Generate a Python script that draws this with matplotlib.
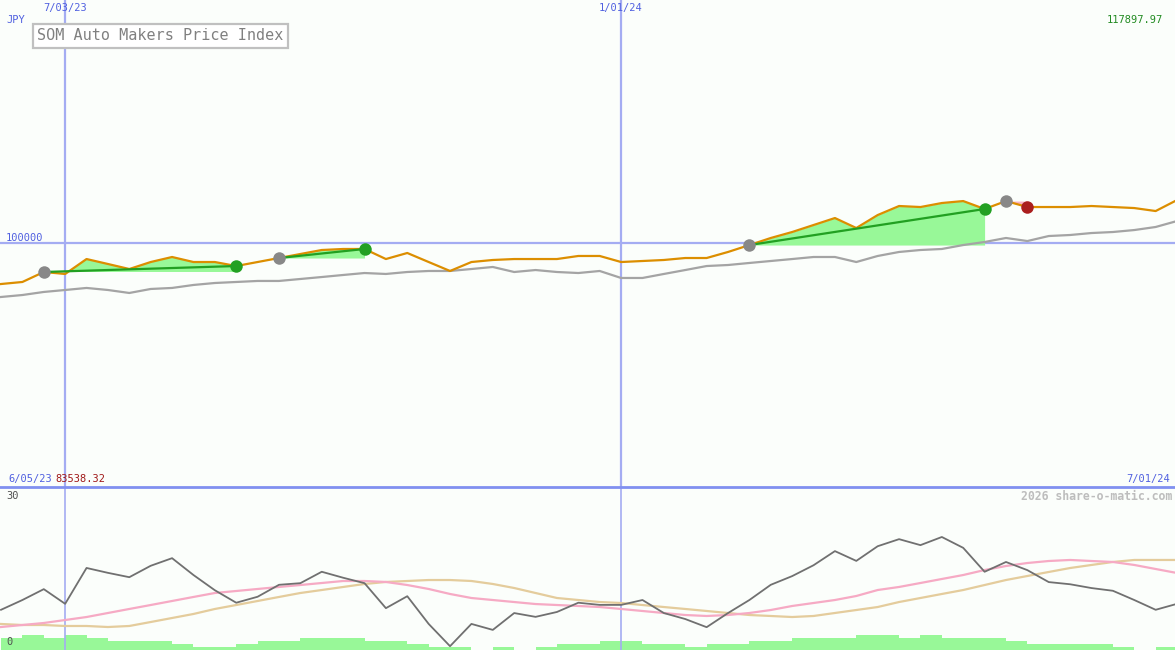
import numpy as np
import pandas as pd
import matplotlib
matplotlib.use('Agg')
import matplotlib.pyplot as plt
from matplotlib.lines import Line2D

# weekly data, index units
fechas = pd.date_range('2023-06-12', periods=56, freq='7D')

precio = [96980, 97130, 97865, 97720, 98820, 98455, 98085, 98600, 98970, 98600,
          98600, 98305, 98600, 98895, 99190, 99485, 99560, 99560, 98820, 99265,
          98600, 97940, 98600, 98750, 98820, 98820, 98820, 99045, 99045, 98600,
          98675, 98750, 98895, 98895, 99340, 99850, 100370, 100810, 101325, 101840,
          101105, 102060, 102725, 102650, 102945, 103090, 102505, 103090, 102650, 102650,
          102650, 102725, 102650, 102575, 102355, 103165]

media = [96025, 96170, 96395, 96540, 96690, 96540, 96320, 96615, 96690, 96910,
         97055, 97130, 97205, 97205, 97350, 97495, 97645, 97790, 97720, 97865,
         97940, 97940, 98085, 98235, 97865, 98010, 97865, 97790, 97940, 97425,
         97425, 97720, 98010, 98305, 98380, 98530, 98675, 98820, 98970, 98970,
         98600, 99045, 99340, 99485, 99560, 99850, 100075, 100370, 100145, 100515,
         100590, 100735, 100810, 100955, 101180, 101620]

# trades: (entrada, salida)
operaciones = [(2, 11), (13, 17), (35, 46), (47, 48)]

osc = [7.4, 9.2, 11.2, 8.5, 15.1, 14.2, 13.4, 15.5, 16.9, 13.8,
       11.0, 8.7, 9.8, 12.0, 12.3, 14.4, 13.3, 12.3, 7.7, 9.9,
       4.8, 0.7, 4.8, 3.7, 6.8, 6.1, 7.0, 8.7, 8.3, 8.3,
       9.2, 6.8, 5.7, 4.2, 6.8, 9.2, 12.0, 13.6, 15.6, 18.2,
       16.4, 19.1, 20.4, 19.3, 20.8, 18.8, 14.4, 16.2, 14.7, 12.5,
       12.1, 11.4, 10.9, 9.2, 7.4, 8.5]

osc_rosa = [4.23, 4.60, 4.97, 5.52, 6.07, 6.81, 7.55, 8.28, 9.02, 9.76,
            10.49, 10.86, 11.23, 11.60, 11.96, 12.33, 12.70, 12.70, 12.52, 11.96,
            11.23, 10.31, 9.57, 9.20, 8.83, 8.46, 8.28, 8.10, 7.91, 7.55,
            7.18, 6.81, 6.44, 6.26, 6.44, 6.81, 7.36, 8.10, 8.65, 9.20,
            9.94, 11.04, 11.60, 12.33, 13.07, 13.80, 14.72, 15.46, 16.01, 16.38,
            16.57, 16.38, 16.20, 15.65, 14.91, 14.17]

osc_tan = [4.79, 4.60, 4.60, 4.42, 4.42, 4.23, 4.42, 5.15, 5.89, 6.63,
           7.55, 8.28, 9.02, 9.76, 10.49, 11.04, 11.60, 12.15, 12.52, 12.70,
           12.88, 12.88, 12.70, 12.15, 11.41, 10.49, 9.57, 9.20, 8.83, 8.65,
           8.28, 7.91, 7.55, 7.18, 6.81, 6.44, 6.26, 6.07, 6.26, 6.81,
           7.36, 7.91, 8.83, 9.57, 10.31, 11.04, 11.96, 12.88, 13.62, 14.36,
           15.09, 15.65, 16.20, 16.57, 16.57, 16.57]

volumen = [4, 5, 4, 5, 4, 3, 3, 3, 2, 1, 1, 2, 3, 3, 4, 4, 4, 3, 3, 2,
           1, 1, 0, 1, 0, 1, 2, 2, 3, 3, 2, 2, 1, 2, 2, 3, 3, 4, 4, 4,
           5, 5, 4, 5, 4, 4, 4, 3, 2, 2, 2, 2, 1, 0, 1]

fondo = '#fbfefb'
azul = '#a4acf2'
naranja = '#dc8e00'
verde_rell = '#98f898'
rosa_rell = '#f8b4c4'

fig = plt.figure(figsize=(11.75, 6.5), dpi=100, facecolor=fondo)
ax = fig.add_axes([0, 163/650, 1, 487/650])
ax2 = fig.add_axes([0, 0, 1, 163/650])
for a in (ax, ax2):
    a.set_facecolor(fondo)
    a.axis('off')

x0 = pd.Timestamp('2023-06-11 16:00')
x1 = pd.Timestamp('2024-06-30 08:00')

# main panel
ax.set_xlim(x0, x1)
ax.set_ylim(82030, 117898)
ax.axhline(100000, color=azul, lw=1.6, zorder=1)
for d in ['2023-07-03', '2024-01-01']:
    ax.axvline(pd.Timestamp(d), color=azul, lw=1.6, zorder=1)
    ax2.axvline(pd.Timestamp(d), color=azul, lw=1.2, zorder=1)

P = np.array(precio, dtype=float)
ax.plot(fechas, media, color='#a4a4a4', lw=1.6, zorder=3)
for e, s in operaciones:
    xs = fechas[e:s+1]
    ys = P[e:s+1]
    ax.fill_between(xs, ys, P[e], where=ys >= P[e], interpolate=True,
                    color=verde_rell, lw=0, zorder=2)
    ax.fill_between(xs, ys, P[e], where=ys < P[e], interpolate=True,
                    color=rosa_rell, lw=0, zorder=2)
ax.plot(fechas, precio, color=naranja, lw=1.6, zorder=4)
for e, s in operaciones:
    gana = P[s] > P[e]
    col = '#22a022' if gana else '#aa1e1e'
    if gana:
        ax.plot([fechas[e], fechas[s]], [P[e], P[s]], color=col, lw=1.6, zorder=5)
    ax.plot(fechas[e], P[e], 'o', color='#888888', ms=9, mec='none', zorder=6)
    ax.plot(fechas[s], P[s], 'o', color=col, ms=9, mec='none', zorder=6)

# bottom panel
ax2.set_xlim(x0, x1)
ax2.set_ylim(0, 30)
ax3 = ax2.twinx()
ax3.axis('off')
ax3.set_ylim(0, 163/3)
ax3.bar(fechas[:-1], volumen, width=7, align='edge', color=verde_rell, lw=0, zorder=1)
ax2.set_zorder(ax3.get_zorder() + 1)
ax2.patch.set_visible(False)
ax2.plot(fechas, osc_tan, color='#e4cc9c', lw=1.6, zorder=3)
ax2.plot(fechas, osc_rosa, color='#f6aac4', lw=1.6, zorder=3)
ax2.plot(fechas, osc, color='#707070', lw=1.3, zorder=4)

fig.add_artist(Line2D([0, 1], [163/650, 163/650], color='#8090f0', lw=2.0))

def px(x, y):
    return x / 1175, 1 - y / 650

mono = 'DejaVu Sans Mono'
azul_t = '#5060e0'
fig.text(*px(65, 8), '7/03/23', color=azul_t, fontsize=7.5, family=mono, ha='center', va='center')
fig.text(*px(621, 8), '1/01/24', color=azul_t, fontsize=7.5, family=mono, ha='center', va='center')
fig.text(*px(6, 20), 'JPY', color=azul_t, fontsize=7.5, family=mono, ha='left', va='center')
fig.text(*px(1163, 20), '117897.97', color='#228b22', fontsize=7.5, family=mono, ha='right', va='center')
fig.text(*px(6, 238), '100000', color=azul_t, fontsize=7.5, family=mono, ha='left', va='center')
fig.text(*px(8, 479), '6/05/23', color=azul_t, fontsize=7.5, family=mono, ha='left', va='center')
fig.text(*px(55, 479), '83538.32', color='#a01818', fontsize=7.5, family=mono, ha='left', va='center')
fig.text(*px(1170, 479), '7/01/24', color=azul_t, fontsize=7.5, family=mono, ha='right', va='center')
fig.text(*px(6, 496), '30', color='#505050', fontsize=7.5, family=mono, ha='left', va='center')
fig.text(*px(6, 642), '0', color='#505050', fontsize=7.5, family=mono, ha='left', va='center')
fig.text(*px(1172, 496), '2026 share-o-matic.com', color='#bdbdbd', fontsize=8.3,
         family=mono, weight='bold', ha='right', va='center')
fig.text(*px(37, 36), 'SOM Auto Makers Price Index', color='#808080', fontsize=10.9,
         family=mono, ha='left', va='center',
         bbox=dict(boxstyle='square,pad=0.28', fc='white', ec='#c0c0c0', lw=1.6))

plt.savefig('out.png', dpi=100, facecolor=fondo)
